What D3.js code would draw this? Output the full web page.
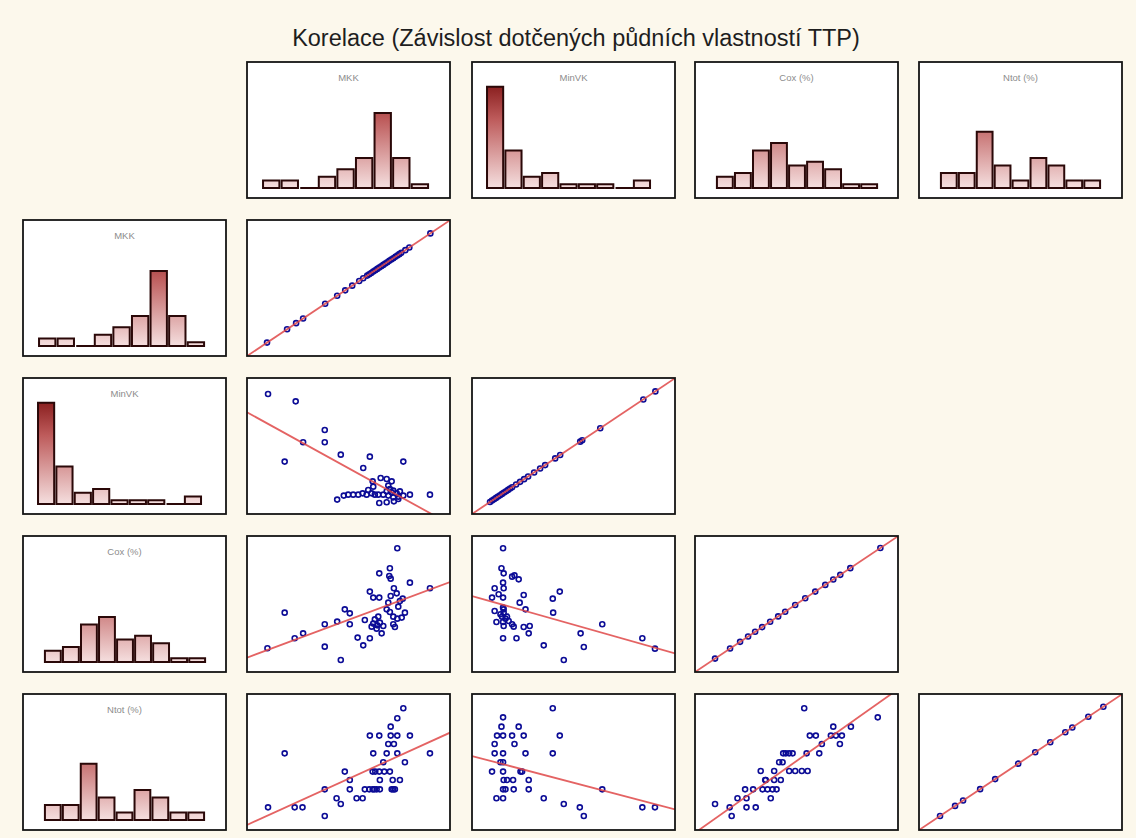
<!DOCTYPE html>
<html><head><meta charset="utf-8">
<script src="https://cdn.jsdelivr.net/npm/d3@7"></script>
<style>body{margin:0;background:#fcf8ec;} svg{display:block}</style>
</head><body><svg id="c" width="1136" height="838"></svg>
<script>
// ---------------- DATA ----------------
const title = "Korelace (Závislost dotčených půdních vlastností TTP)";
const variables = ["MKK", "MinVK", "Cox (%)", "Ntot (%)"];

// histogram counts (9 bins each)
const histMKK   = [2, 2, 0, 3, 5, 8, 20, 8, 1];
const histMinVK = [27, 10, 3, 4, 1, 1, 1, 0, 2];
const histCox   = [3, 4, 10, 12, 6, 7, 5, 1, 1];
const histNtot  = [4, 4, 15, 6, 2, 8, 6, 2, 2];
// bin span of each histogram (relative scale 0-100)
const histSpan  = [[7.9, 89.2], [7.4, 87.7], [10.8, 89.7], [10.8, 89.2]];

// diagonal (variable vs itself), relative units
const diagMKK   = [10, 20, 24.5, 28, 39, 45, 49, 52.5, 56, 58, 60, 61, 62, 63, 64, 65, 66, 67, 68, 69, 70, 71, 72, 73, 74, 75, 76, 77, 79, 81, 91.5];
const diagMinVK = [9, 10, 11, 12, 13, 14, 15, 16, 17, 18, 19, 20, 22, 24, 26, 28, 31, 34, 36.5, 41.5, 44, 54, 55, 64, 85.5, 91.5];
const diagCox   = [10, 17.5, 22.5, 26.5, 30, 33.5, 37.5, 41.5, 45, 50, 55, 60, 65, 69, 72.5, 77.5, 92.5];
const diagNtot  = [10.5, 18, 22, 30.5, 38, 49.5, 58, 65.5, 73, 76.5, 84.5, 92];

// off-diagonal scatter points [x, y] in relative units (x: column variable, y: row variable)
const ptsMinVK_MKK = [[10.5,90],[24.3,84.5],[38.8,63],[28,53.8],[38.8,53.8],[18.8,39.3],[46.8,44.5],[61.3,43],[78,39.3],[58,34.5],[91.3,14.5],[66.7,27],[69.7,26.3],[72.2,24.5],[62.7,24.5],[63,20.5],[60.5,18],[70.5,21.3],[71.3,18.8],[73,17.5],[74.7,15.5],[76.3,17],[81.3,14.5],[78,13.8],[75.5,13],[73,12.5],[70.5,13.8],[68,14.5],[65.5,14.5],[63.8,14.5],[62.2,15.5],[59.7,14.5],[57.7,15.5],[55.5,14.5],[53,14.5],[50.5,14.5],[48.3,13.8],[45,10.8],[66,8.3],[69.7,8.8],[73.3,9.5],[75.5,11.3],[72.2,16.3],[69.7,17]];
const ptsCox_MKK = [[75,92.8],[66,74],[71.3,77.8],[71,72],[71.7,70],[81.3,67],[91.3,62.8],[61.3,60.3],[63,55.8],[66,55.8],[73.3,62.8],[74.7,59],[71.7,57],[77.7,55],[76.3,53.3],[70.5,52],[75.5,49],[69.7,47],[71.3,45],[78.8,44.5],[18.8,44.5],[48.8,47],[51.3,44],[65.5,41.5],[63.8,39.5],[73,41.5],[75,40],[77.2,40.8],[63,36.3],[65,35],[66.3,37],[68,34.5],[62.2,34],[64.7,32.5],[73,35.8],[73.8,33.8],[45,37.8],[38.8,35.8],[51.3,35.8],[58.8,39],[67.2,29],[61.3,25.3],[55.2,25.8],[58,20],[38.8,19],[28,29],[23.8,25.3],[10.2,17.8],[46.8,9]];
const ptsCox_MinVK = [[15.5,92.8],[14.7,77.8],[15.8,74],[20,71.5],[21.2,72.5],[23.3,69.5],[15.5,67],[11.3,62.8],[15.8,62.8],[13.3,58.3],[10,55.8],[15.5,55.8],[25.8,57.8],[23.8,52],[26.7,47],[11.3,45.8],[15.5,48.3],[15.8,44.5],[15,41.5],[16.7,40],[15.5,37.5],[12.2,37.5],[18.3,38.3],[20,35.8],[15.8,34.5],[20.8,34],[25.8,33.8],[28.8,34.5],[28.3,29],[15.5,25.3],[22.2,25.3],[35.8,20],[40.3,55],[43.8,60.3],[40.5,44.5],[54.2,29],[55.8,18.8],[65,35.8],[45.8,9],[85,25.3],[91.3,17.5],[14.2,43.3],[17.5,41.5],[15.8,47]];
const ptsNtot_MKK = [[78,91.3],[75,83.8],[71.7,77.5],[61.3,70.8],[66,70.8],[71.7,70.8],[75,70.8],[81.3,70.8],[70.5,64.5],[73.3,64.5],[18.8,57.5],[63,57.5],[69.7,57.5],[75,57.5],[91.3,57.5],[78.8,50.8],[68,50.8],[48.8,43.8],[62.7,43.8],[66,43.8],[71.3,43.8],[51.3,37.5],[66.3,37.5],[72.7,37.5],[76.3,37.5],[38.8,30.5],[51.3,30.5],[58.8,30.5],[62.7,30.5],[64.7,30.5],[66.3,30.5],[72.2,30.5],[73.8,30.5],[44.7,23.8],[46.8,19.5],[54.7,23.8],[57.7,23.8],[10.5,17],[23.8,17],[27.7,17],[38.8,10.5],[64,43.8],[68.5,43.8],[63.5,30.5],[73,30.5],[61,30.5]];
const ptsNtot_MinVK = [[40.3,91.3],[15.5,84.5],[14.7,77.5],[23.3,77.5],[12.5,70.8],[15.5,70.8],[20,70.8],[25.8,70.8],[43.8,70.8],[11.3,64.5],[21.2,64.5],[11.3,57.5],[15.5,57.5],[26.7,57.5],[40.3,57.5],[14.2,50.8],[15.5,50.8],[10,43.8],[15.5,43.8],[24.2,43.8],[25,43.8],[15.8,37.5],[20.5,37.5],[28.3,37.5],[15.5,30.5],[16.7,30.5],[20.8,30.5],[28.3,30.5],[12.2,23.8],[15.5,23.8],[35.8,23.8],[45.8,19.5],[53.8,17],[55.8,10.5],[65,30.5],[85,17],[91.3,17],[17.5,37.5]];
const ptsNtot_Cox = [[54.5,91.3],[91.2,84.5],[69,77.5],[77.8,77.5],[57.3,70.8],[60.3,70.8],[67.8,70.8],[70.3,70.8],[73.3,70.8],[72.3,64.5],[63.3,64.5],[44,57.5],[47,57.5],[45.3,57.5],[48.7,57.5],[55.7,57.5],[62,57.5],[42,50.8],[43.7,50.8],[32.8,44.3],[39.5,44.3],[47,44.3],[50,44.3],[53.3,44.3],[56.2,44.3],[35.3,37.5],[39.5,37.5],[42.8,37.5],[33.7,30.5],[36.2,30.5],[38.7,30.5],[40.7,30.5],[25,30.5],[29,30.5],[21.2,23.8],[25.7,23.8],[37.8,23.8],[10,19.5],[17.3,17],[25.7,17],[30.3,17],[18.3,10.5],[35,37.5]];

// regression lines [x0, y0, x1, y1] in relative units
const lineMinVK_MKK  = [0, 76.3, 101.3, -7.6];
const lineCox_MKK    = [0, 10.8, 101.3, 67.5];
const lineCox_MinVK  = [0, 57, 101.3, 14];
const lineNtot_MKK   = [0, 3.8, 101.3, 73];
const lineNtot_MinVK = [0, 55.5, 101.3, 15.5];
const lineNtot_Cox   = [0, -2.1, 101.7, 106];
const lineDiag       = [0, 0, 101.5, 102];

// ---------------- LAYOUT ----------------
const colX = [23, 247, 472, 695, 919];
const rowY = [62, 220, 378, 536, 694];
const W = 203, H = 136;
const hists = [histMKK, histMinVK, histCox, histNtot];
const diags = [diagMKK, diagMinVK, diagCox, diagNtot];
const scatters = {
  "1-0": [ptsMinVK_MKK, lineMinVK_MKK],
  "2-0": [ptsCox_MKK, lineCox_MKK],
  "2-1": [ptsCox_MinVK, lineCox_MinVK],
  "3-0": [ptsNtot_MKK, lineNtot_MKK],
  "3-1": [ptsNtot_MinVK, lineNtot_MinVK],
  "3-2": [ptsNtot_Cox, lineNtot_Cox]
};

const svg = d3.select("#c");
svg.append("rect").attr("width", 1136).attr("height", 838).attr("fill", "#fcf8ec");

const defs = svg.append("defs");
const grad = defs.append("linearGradient").attr("id", "hg")
  .attr("gradientUnits", "userSpaceOnUse").attr("x1", 0).attr("y1", 14).attr("x2", 0).attr("y2", 126);
grad.append("stop").attr("offset", 0).attr("stop-color", "#7a0d0d");
grad.append("stop").attr("offset", 0.38).attr("stop-color", "#bd5a5a");
grad.append("stop").attr("offset", 1).attr("stop-color", "#f5dfdf");
defs.append("clipPath").attr("id", "pc").append("rect").attr("width", W).attr("height", H);

svg.append("text").attr("x", 576).attr("y", 46).attr("text-anchor", "middle")
  .attr("font-family", "Liberation Sans, Arial, sans-serif").attr("font-size", 23.5)
  .attr("fill", "#1e1e1e").text(title);

function panel(x, y) {
  const g = svg.append("g").attr("transform", `translate(${x},${y})`);
  g.append("rect").attr("width", W).attr("height", H).attr("fill", "#fff");
  return g;
}
function border(g) {
  g.append("rect").attr("width", W).attr("height", H).attr("fill", "none")
    .attr("stroke", "#141414").attr("stroke-width", 1.8);
}

const hy = d3.scaleLinear().domain([0, 30]).range([126, 126 - 112.5]);
function histogram(g, vi) {
  const counts = hists[vi];
  const rx = d3.scaleLinear().domain([0, 100]).range([0, W]);
  const bx = d3.scaleBand().domain(d3.range(counts.length))
    .range([rx(histSpan[vi][0]), rx(histSpan[vi][1])]).paddingInner(0.12);
  g.selectAll("path.bar").data(counts).join("path").attr("class", "bar")
    .attr("d", (c, i) => {
      const x0 = bx(i), x1 = bx(i) + bx.bandwidth(), y0 = hy(0), y1 = hy(c);
      return c > 0 ? `M${x0},${y0}V${y1}H${x1}V${y0}Z` : `M${x0},${y0}H${x1 + bx.step() - bx.bandwidth()}`;
    })
    .attr("fill", c => c > 0 ? "url(#hg)" : "none")
    .attr("stroke", "#2a0808").attr("stroke-width", 2);
  g.append("text").attr("x", W / 2).attr("y", 19).attr("text-anchor", "middle")
    .attr("font-family", "Liberation Sans, Arial, sans-serif").attr("font-size", 9.5)
    .attr("fill", "#8c8c8c").text(variables[vi]);
}

const sx = d3.scaleLinear().domain([0, 101.3]).range([0, W]);
const sy = d3.scaleLinear().domain([0, 102]).range([H, 0]);
function scatter(g, pts, ln) {
  const c = g.append("g").attr("clip-path", "url(#pc)");
  c.selectAll("circle").data(pts).join("circle")
    .attr("cx", d => sx(d[0])).attr("cy", d => sy(d[1])).attr("r", 2.5)
    .attr("fill", "none").attr("stroke", "#0c0c96").attr("stroke-width", 1.6);
  c.append("line").attr("x1", sx(ln[0])).attr("y1", sy(ln[1])).attr("x2", sx(ln[2])).attr("y2", sy(ln[3]))
    .attr("stroke", "#e04848").attr("stroke-width", 1.8).attr("opacity", 0.85);
}

// top row histograms
for (let j = 0; j < 4; j++) { const g = panel(colX[j + 1], rowY[0]); histogram(g, j); border(g); }
// rows
for (let i = 0; i < 4; i++) {
  const g0 = panel(colX[0], rowY[i + 1]); histogram(g0, i); border(g0);
  for (let j = 0; j <= i; j++) {
    const g = panel(colX[j + 1], rowY[i + 1]);
    if (i === j) scatter(g, diags[i].map(v => [v, v * 102 / 101.5]), lineDiag);
    else { const s = scatters[`${i}-${j}`]; scatter(g, s[0], s[1]); }
    border(g);
  }
}
</script></body></html>
